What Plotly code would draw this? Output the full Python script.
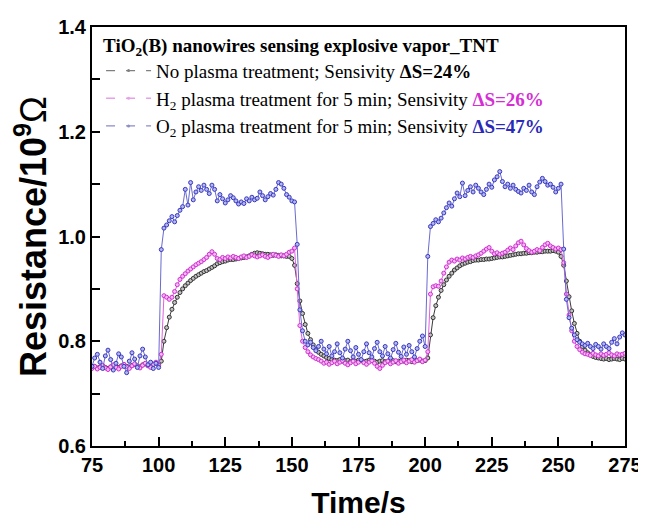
import plotly.graph_objects as go

# ---------------- data ----------------
time_s = list(range(75, 276))

no_plasma = [
    0.750, 0.752, 0.749, 0.751, 0.753, 0.750, 0.748, 0.751, 0.754, 0.752,
    0.750, 0.753, 0.755, 0.752, 0.750, 0.754, 0.756, 0.753, 0.751, 0.755,
    0.757, 0.754, 0.752, 0.756, 0.758, 0.755,
    0.762, 0.800, 0.826, 0.846, 0.861, 0.874, 0.884, 0.893, 0.900, 0.906,
    0.911, 0.916, 0.920, 0.924, 0.927, 0.930, 0.933, 0.935, 0.938, 0.941,
    0.944, 0.948, 0.950, 0.952, 0.953, 0.955, 0.956, 0.956, 0.957, 0.958,
    0.959, 0.960, 0.961, 0.963, 0.966, 0.968, 0.969, 0.968, 0.967, 0.966,
    0.966, 0.965, 0.964, 0.965, 0.964, 0.963, 0.963, 0.962, 0.962, 0.958,
    0.945, 0.910, 0.877, 0.853, 0.832, 0.815, 0.803, 0.793, 0.785, 0.779,
    0.775, 0.772, 0.769, 0.767, 0.765,
    0.764, 0.763, 0.765, 0.762, 0.763, 0.764, 0.761, 0.763, 0.762, 0.764,
    0.763, 0.761, 0.762, 0.764, 0.763, 0.762, 0.760, 0.762, 0.763, 0.761,
    0.762, 0.764, 0.763, 0.761, 0.762, 0.763, 0.762, 0.764, 0.763, 0.761,
    0.762, 0.763, 0.764, 0.762, 0.763,
    0.768, 0.812, 0.845, 0.868, 0.884, 0.897, 0.908, 0.917, 0.924, 0.930,
    0.936, 0.940, 0.944, 0.947, 0.949, 0.951, 0.952, 0.954, 0.955, 0.955,
    0.956, 0.956, 0.957, 0.957, 0.958, 0.959, 0.960, 0.961, 0.961, 0.962,
    0.963, 0.964, 0.965, 0.966, 0.967, 0.967, 0.968, 0.968, 0.969, 0.969,
    0.970, 0.970, 0.971, 0.971, 0.972, 0.972, 0.972, 0.973, 0.972, 0.970,
    0.962, 0.945, 0.915, 0.885, 0.858, 0.834, 0.815, 0.800, 0.790, 0.783,
    0.778, 0.774, 0.771, 0.769, 0.768,
    0.767, 0.766, 0.767, 0.765, 0.766, 0.767, 0.766, 0.765, 0.767, 0.766,
]

h2_plasma = [
    0.748, 0.752, 0.747, 0.750, 0.754, 0.749, 0.746, 0.751, 0.755, 0.750,
    0.747, 0.752, 0.756, 0.751, 0.748, 0.753, 0.757, 0.752, 0.749, 0.754,
    0.758, 0.753, 0.750, 0.756, 0.760, 0.754,
    0.775, 0.887, 0.884, 0.880, 0.884, 0.895, 0.908, 0.918, 0.924, 0.929,
    0.934, 0.938, 0.942, 0.946, 0.949, 0.952, 0.956, 0.960, 0.966, 0.971,
    0.966, 0.958, 0.956, 0.960, 0.958, 0.961, 0.959, 0.962, 0.960, 0.958,
    0.961, 0.963, 0.960, 0.962, 0.965, 0.963, 0.961, 0.963, 0.965, 0.962,
    0.960, 0.963, 0.966, 0.964, 0.962, 0.965, 0.963, 0.966, 0.970, 0.972,
    0.978, 0.900, 0.830, 0.800, 0.788, 0.780, 0.774, 0.770, 0.767, 0.765,
    0.762, 0.758, 0.760, 0.756, 0.759, 0.762, 0.757, 0.760, 0.763, 0.758,
    0.755, 0.759, 0.762, 0.757, 0.760, 0.764, 0.759, 0.756, 0.760, 0.763,
    0.758, 0.752, 0.748, 0.754, 0.759, 0.762, 0.757, 0.760, 0.763, 0.758,
    0.761, 0.764, 0.759, 0.762, 0.765, 0.760, 0.763, 0.766, 0.761, 0.764,
    0.780, 0.890, 0.904, 0.906, 0.905, 0.915, 0.930, 0.942, 0.951, 0.955,
    0.953, 0.957, 0.955, 0.959, 0.957, 0.960, 0.962, 0.960, 0.963, 0.965,
    0.968, 0.972, 0.976, 0.979, 0.972, 0.967, 0.969, 0.966, 0.968, 0.970,
    0.974, 0.978, 0.975, 0.982, 0.988, 0.991, 0.984, 0.977, 0.973, 0.970,
    0.972, 0.975, 0.973, 0.979, 0.984, 0.987, 0.982, 0.979, 0.976, 0.978,
    0.975, 0.950, 0.890, 0.850, 0.820, 0.800, 0.790, 0.784, 0.779, 0.776,
    0.775, 0.773, 0.777, 0.774, 0.772, 0.776, 0.773, 0.775, 0.778, 0.774,
    0.772, 0.776, 0.774, 0.775, 0.777,
]

o2_plasma = [
    0.752, 0.768, 0.775, 0.760, 0.748, 0.772, 0.783, 0.765, 0.745, 0.758,
    0.776, 0.770, 0.752, 0.740, 0.762, 0.778, 0.766, 0.750, 0.772, 0.785,
    0.770, 0.755, 0.760, 0.748, 0.758, 0.750,
    0.975, 1.016, 1.022, 1.030, 1.038, 1.028, 1.040, 1.050, 1.057, 1.090,
    1.060, 1.103, 1.070, 1.085, 1.095, 1.088, 1.098, 1.090, 1.082, 1.098,
    1.090, 1.068, 1.080, 1.072, 1.064, 1.070, 1.078, 1.074, 1.068, 1.062,
    1.066, 1.063, 1.072, 1.068, 1.075, 1.070, 1.073, 1.085, 1.078, 1.070,
    1.076, 1.082, 1.079, 1.090, 1.103, 1.100, 1.092, 1.080, 1.075, 1.068,
    1.066, 0.985, 0.860, 0.820, 0.800, 0.793, 0.798, 0.788, 0.782, 0.790,
    0.800, 0.785, 0.776, 0.790, 0.772, 0.780, 0.795, 0.778, 0.768, 0.785,
    0.800, 0.782, 0.770, 0.788, 0.775, 0.765, 0.780, 0.795, 0.778, 0.770,
    0.786, 0.798, 0.780, 0.772, 0.790, 0.776, 0.768, 0.784, 0.796, 0.779,
    0.771, 0.789, 0.775, 0.792, 0.780, 0.770, 0.786, 0.800, 0.810, 0.790,
    0.962, 1.019, 1.025, 1.032, 1.028, 1.035, 1.045, 1.055, 1.064, 1.058,
    1.072, 1.083, 1.076, 1.102, 1.078, 1.088, 1.095, 1.085, 1.098, 1.092,
    1.085, 1.080, 1.090, 1.100, 1.094, 1.108, 1.114, 1.124, 1.105, 1.095,
    1.100, 1.092, 1.098, 1.090, 1.086, 1.083, 1.092, 1.088, 1.098, 1.085,
    1.080, 1.095, 1.104, 1.111, 1.105, 1.098, 1.100, 1.094, 1.085, 1.092,
    1.100, 0.976, 0.880, 0.845, 0.825, 0.812, 0.803, 0.798, 0.795, 0.792,
    0.796, 0.790, 0.786, 0.794, 0.790, 0.785, 0.795, 0.790, 0.786, 0.798,
    0.805, 0.795, 0.808, 0.816, 0.812,
]

# y ticks every 0.1, labelled every 0.2
y_tick_vals = [0.6, 0.7, 0.8, 0.9, 1.0, 1.1, 1.2, 1.3, 1.4]
y_tick_text = ["0.6", "", "0.8", "", "1.0", "", "1.2", "", "1.4"]

legend_title = "<b>TiO<sub>2</sub>(B) nanowires sensing explosive vapor_TNT</b>"
legend_names = [
    "No plasma treatment; Sensivity <b>ΔS=24%</b>",
    "H<sub>2</sub> plasma treatment for 5 min; Sensivity <span style='color:#d42ed4'><b>ΔS=26%</b></span>",
    "O<sub>2</sub> plasma treatment for 5 min; Sensivity <span style='color:#2a2ab8'><b>ΔS=47%</b></span>",
]

# ---------------- styles ----------------
series = [
    (no_plasma, "#3a3a3a", "#c0c0c0", "#333333", "#808080"),
    (h2_plasma, "#e060e0", "#f4b8f4", "#d030d0", "#e8a0e8"),
    (o2_plasma, "#6a6ad0", "#b4b6ee", "#3838c0", "#8c8cc8"),
]

fig = go.Figure()
for vals, lcol, mfill, mline, _ in series:
    fig.add_trace(go.Scatter(
        x=time_s, y=vals, mode="lines+markers",
        line=dict(color=lcol, width=1),
        marker=dict(symbol="circle", size=4, color=mfill,
                    line=dict(color=mline, width=1)),
        showlegend=False, hoverinfo="skip",
    ))

for (vals, lcol, mfill, mline, legcol), name in zip(series, legend_names):
    fig.add_trace(go.Scatter(
        x=[None], y=[None], mode="lines+markers", name=name,
        line=dict(color=legcol, width=1.3, dash="9px,11px"),
        marker=dict(symbol="circle", size=3, color=legcol,
                    line=dict(width=0)),
    ))

sans = "Liberation Sans, Arial"
# the page body has an 8px default margin, so the figure is 8px smaller
fig.update_layout(
    width=638, height=512,
    margin=dict(l=84, r=21, t=19, b=74, autoexpand=False),
    paper_bgcolor="white", plot_bgcolor="white",
    font=dict(family="Liberation Serif, Times New Roman", color="black"),
    legend=dict(
        x=0.017, y=1.0, xanchor="left", yanchor="top",
        bgcolor="rgba(0,0,0,0)", borderwidth=0,
        title=dict(text=legend_title,
                   font=dict(family="Liberation Serif", size=19, color="black")),
        font=dict(family="Liberation Serif", size=19, color="black"),
        itemwidth=45, tracegroupgap=0,
    ),
    xaxis=dict(
        range=[75, 275], tickmode="linear", tick0=75, dtick=25,
        ticks="inside", ticklen=9, tickwidth=2, tickcolor="black",
        minor=dict(ticks="inside", ticklen=5, tickwidth=2, tickcolor="black",
                   dtick=12.5, tick0=75),
        showline=True, linewidth=2, linecolor="black", mirror=True,
        showgrid=False, zeroline=False,
        tickfont=dict(family=sans, size=20, color="black", weight="bold"),
        title=dict(text="<b>Time/s</b>", standoff=17,
                   font=dict(family=sans, size=30, color="black")),
    ),
    yaxis=dict(
        range=[0.6, 1.4], tickmode="array",
        tickvals=y_tick_vals, ticktext=y_tick_text, ticksuffix="\u00a0",
        ticks="inside", ticklen=8, tickwidth=2, tickcolor="black",
        showline=True, linewidth=2, linecolor="black", mirror=True,
        showgrid=False, zeroline=False,
        tickfont=dict(family=sans, size=20, color="black", weight="bold"),
        title=dict(text="<b>Resistance/10<sup>9</sup></b>Ω", standoff=2,
                   font=dict(family=sans, size=36, color="black")),
    ),
)

fig.write_html("out.html")
